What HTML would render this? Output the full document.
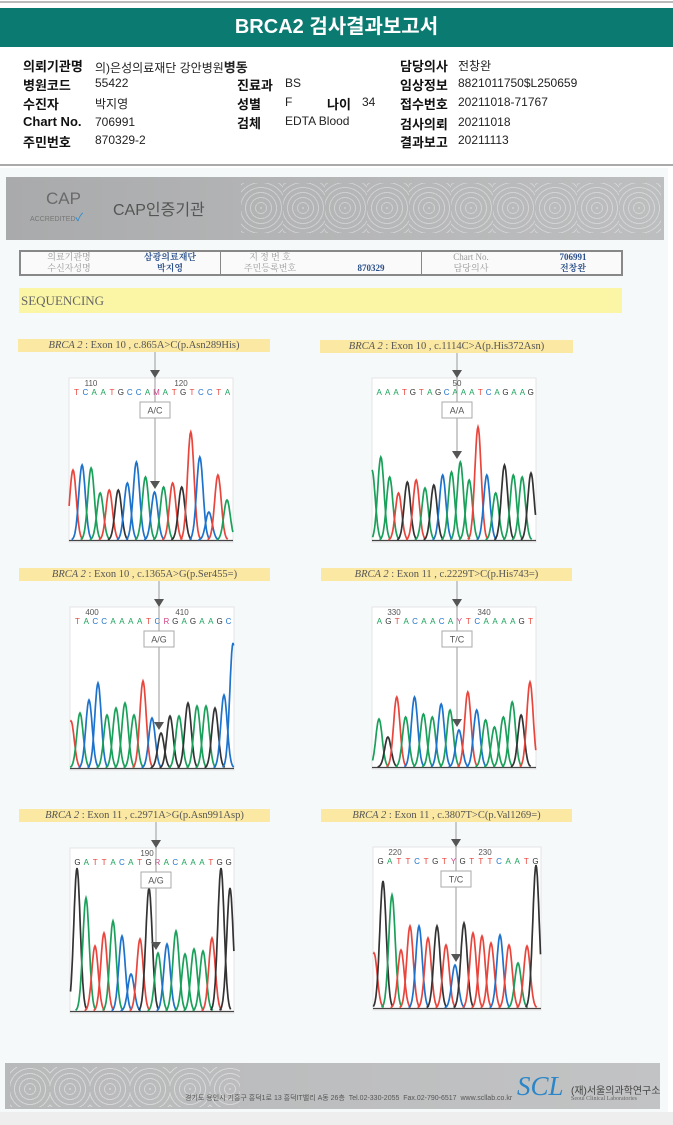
<!DOCTYPE html>
<html><head><meta charset="utf-8">
<style>
*{margin:0;padding:0;box-sizing:border-box}
body{width:673px;height:1125px;position:relative;background:#fff;font-family:"Liberation Sans","Noto Sans CJK KR",sans-serif;overflow:hidden}
.abs{position:absolute}
.lab{position:absolute;font-weight:bold;font-size:13px;color:#111}
.val{position:absolute;font-size:12px;color:#222}
.ybar{position:absolute;background:#fbe8a2;height:13px;font-family:"Liberation Serif","Noto Serif CJK SC",serif;font-size:10.5px;color:#555;text-align:center;line-height:13px;white-space:nowrap;overflow:hidden}
.tc{position:absolute;font-family:"Liberation Serif","Noto Serif CJK SC",serif;font-size:9px;line-height:11px;color:#999;transform:translateX(-50%);white-space:nowrap}
.tv{position:absolute;font-family:"Liberation Serif","Noto Serif CJK SC",serif;font-size:9px;line-height:11px;color:#2a4f8a;font-weight:bold;transform:translateX(-50%);white-space:nowrap}
</style></head><body>
<div class="abs" style="left:0;top:1px;width:673px;height:2px;background:#bbb"></div>
<div class="abs" style="left:0;top:8px;width:673px;height:39px;background:#0b7a70;color:#fff;font-weight:bold;font-size:20px;text-align:center;line-height:39px">BRCA2 검사결과보고서</div>

<div class="lab" style="left:23px;top:56px">의뢰기관명</div>
<div class="val" style="left:95px;top:57px">의)은성의료재단 강안병원<b style="font-size:13px">병동</b></div>
<div class="lab" style="left:400px;top:56px">담당의사</div>
<div class="val" style="left:458px;top:57px">전창완</div>

<div class="lab" style="left:23px;top:75px">병원코드</div>
<div class="val" style="left:95px;top:76px">55422</div>
<div class="lab" style="left:237px;top:75px">진료과</div>
<div class="val" style="left:285px;top:76px">BS</div>
<div class="lab" style="left:400px;top:75px">임상정보</div>
<div class="val" style="left:458px;top:76px">8821011750$L250659</div>

<div class="lab" style="left:23px;top:94px">수진자</div>
<div class="val" style="left:95px;top:95px">박지영</div>
<div class="lab" style="left:237px;top:94px">성별</div>
<div class="val" style="left:285px;top:95px">F</div>
<div class="lab" style="left:327px;top:94px">나이</div>
<div class="val" style="left:362px;top:95px">34</div>
<div class="lab" style="left:400px;top:94px">접수번호</div>
<div class="val" style="left:458px;top:95px">20211018-71767</div>

<div class="lab" style="left:23px;top:114px">Chart No.</div>
<div class="val" style="left:95px;top:115px">706991</div>
<div class="lab" style="left:237px;top:113px">검체</div>
<div class="val" style="left:285px;top:114px">EDTA Blood</div>
<div class="lab" style="left:400px;top:114px">검사의뢰</div>
<div class="val" style="left:458px;top:115px">20211018</div>

<div class="lab" style="left:23px;top:132px">주민번호</div>
<div class="val" style="left:95px;top:133px">870329-2</div>
<div class="lab" style="left:400px;top:132px">결과보고</div>
<div class="val" style="left:458px;top:133px">20211113</div>

<div class="abs" style="left:0;top:164px;width:673px;height:2px;background:#aaa"></div>
<div class="abs" style="left:0;top:168px;width:668px;height:945px;background:#f6f9fa"></div>
<div class="abs" style="left:0;top:1112px;width:673px;height:13px;background:#eeeeee"></div>

<div class="abs" style="left:6px;top:177px;width:658px;height:63px;background:linear-gradient(90deg,#a9aaab,#b3b4b5 40%,#bdbebf);overflow:hidden">
<div class="abs" style="left:235px;top:6px;width:420px;height:50px;background:repeating-radial-gradient(circle at 20px 25px,rgba(255,255,255,.35) 0 1px,transparent 1px 5px);background-size:42px 50px"></div>
<div class="abs" style="left:40px;top:12px;font-size:17px;color:#6a6a6a">CAP</div>
<div class="abs" style="left:24px;top:32px;font-size:7px;color:#777">ACCREDITED<span style="color:#2a8ad0;font-size:11px">✓</span></div>
<div class="abs" style="left:107px;top:19px;font-size:16px;color:#555">CAP인증기관</div>
</div>

<div class="abs" style="left:19px;top:250px;width:604px;height:26px;border:2px solid #888;background:#fafafa">
<div class="abs" style="left:199px;top:0;width:1px;height:22px;background:#888"></div>
<div class="abs" style="left:400px;top:0;width:1px;height:22px;background:#888"></div>
</div>
<div class="tc" style="left:69px;top:252px">의료기관명</div><div class="tv" style="left:170px;top:252px">삼광의료재단</div>
<div class="tc" style="left:270px;top:252px">지 정 번 호</div>
<div class="tc" style="left:471px;top:252px">Chart No.</div><div class="tv" style="left:573px;top:252px">706991</div>
<div class="tc" style="left:69px;top:263px">수신자성명</div><div class="tv" style="left:170px;top:263px">박지영</div>
<div class="tc" style="left:270px;top:263px">주민등록번호</div><div class="tv" style="left:371px;top:263px">870329</div>
<div class="tc" style="left:471px;top:263px">담당의사</div><div class="tv" style="left:573px;top:263px">전창완</div>

<div class="abs" style="left:19px;top:288px;width:603px;height:25px;background:#fbf6a6;font-family:'Liberation Serif',serif;font-size:13px;color:#666;line-height:25px;padding-left:2px">SEQUENCING</div>

<div class="abs" style="left:5px;top:1063px;width:655px;height:46px;background:linear-gradient(90deg,#b8b9ba,#c2c3c4);overflow:hidden">
<div class="abs" style="left:5px;top:4px;width:230px;height:40px;background:repeating-radial-gradient(circle at 20px 22px,rgba(255,255,255,.4) 0 1px,transparent 1px 5px);background-size:40px 40px"></div>
<div class="abs" style="left:180px;top:30px;font-size:7px;color:#555;white-space:nowrap">경기도 용인시 기흥구 흥덕1로 13 흥덕IT밸리 A동 26층 &nbsp;Tel.02-330-2055 &nbsp;Fax.02-790-6517 &nbsp;www.scllab.co.kr</div>
<div class="abs" style="left:512px;top:8px;font-family:'Liberation Serif',serif;font-style:italic;font-size:27px;color:#2a86c8">SCL</div>
<div class="abs" style="left:566px;top:19px;font-size:10px;color:#444;white-space:nowrap">(재)서울의과학연구소</div>
<div class="abs" style="left:566px;top:33px;font-size:6px;color:#666;font-family:'Liberation Serif',serif;white-space:nowrap">Seoul Clinical Laboratories</div>
</div>

<svg id="chrom" class="abs" style="left:0;top:0" width="673" height="1125"></svg>

<script>
// Panel data
const panelLabels = ["c.865A>C(p.Asn289His)","c.1114C>A(p.His372Asn)","c.1365A>G(p.Ser455=)","c.2229T>C(p.His743=)","c.2971A>G(p.Asn991Asp)","c.3807T>C(p.Val1269=)"];
const panelExons = ["Exon 10","Exon 10","Exon 10","Exon 11","Exon 11","Exon 11"];
const genotypes = ["A/C","A/A","A/G","T/C","A/G","T/C"];
const sequences = ["TCAATGCCAMATGTCCTA","AAATGTAGCAAATCAGAAG","TACCAAAATCRGAGAAGC","AGTACAACAYTCAAAAGT","GATTACATGRACAAATGG","GATTCTGTYGTTTCAATG"];
const positionLabels = [["110","120"],["50"],["400","410"],["330","340"],["190"],["220","230"]];
const peakColors = [
 "RBGGRKBBGBGRKRBBRG",
 "GGGRKRGKBGGGRBGKGGK",
 "RGBBGGGGRBKKGKGGKBB",
 "GKRGBGGBGBRBGGGGKR",
 "KGRRGBBRKGBGGGGRKK",
 "RKGRRBRKRBKRRRBRGRK"];
const peakHeights = [
 [70,75,72,47,50,50,57,78,63,48,53,57,53,108,83,28,65,40],
 [70,83,63,47,58,60,52,55,65,68,78,60,113,65,47,75,65,63,67],
 [47,55,68,85,53,60,65,53,87,50,35,52,52,65,62,62,60,73,125],
 [48,30,70,50,70,53,50,63,57,37,75,57,47,40,50,65,52,85],
 [143,113,65,78,90,75,37,72,123,58,67,80,57,62,60,73,143,123],
 [55,127,113,58,82,82,70,82,63,43,85,75,72,65,73,63,45,62,143]];

// Layout (not data)
const boxes=[[69,233,378,542,73,227,155,339,18,270],[372,536,378,542,372,531,457,340,320,573],
 [70,234,607,770,71,233,159,568,19,270],[372,536,607,769,379,530,457,568,321,572],
 [70,234,848,1013,77,230,156,809,19,270],[373,541,847,1010,374,536,456,809,321,572]];
const colMap={R:"#e8453c",G:"#1aa05a",B:"#1d72cc",K:"#333"};
const baseCol={A:"#1aa05a",C:"#1d72cc",G:"#333",T:"#e8453c"};
const svg=document.getElementById('chrom');
const NS="http://www.w3.org/2000/svg";
function mk(t,a){const e=document.createElementNS(NS,t);for(const k in a)e.setAttribute(k,a[k]);svg.appendChild(e);return e;}

panelLabels.forEach((lab,i)=>{
 const [x0,x1,y0,y1,px0,px1,ax,ly,lx0,lx1]=boxes[i];
 const bar=document.createElement('div');
 bar.className='ybar';
 
 
 bar.style.left=lx0+'px';bar.style.top=ly+'px';bar.style.width=(lx1-lx0)+'px';
 bar.innerHTML='<i>BRCA 2</i> : '+panelExons[i]+' , '+lab.replace('>','&gt;');
 document.body.appendChild(bar);
 const r=mk('rect',{x:x0,y:y0,width:x1-x0,height:y1-y0,fill:'#fff',stroke:'#e4e4e4','stroke-width':1});
 
 
 const seq=sequences[i];
 const step=(x1-x0-4)/seq.length;
 for(let k=0;k<seq.length;k++){
  const ch=seq[k];
  const t=mk('text',{x:x0+3+step*(k+0.5),y:y0+17,'font-size':8,'text-anchor':'middle','font-family':'Liberation Sans, sans-serif',fill:baseCol[ch]||'#d0458a'});
  t.textContent=ch;
  
  
 }
 positionLabels[i].forEach((p,j)=>{
  const t=mk('text',{x:x0+22+j*90+(positionLabels[i].length===1?(i===1?63:55):0),y:y0+8,'font-size':8,'text-anchor':'middle','font-family':'Liberation Sans, sans-serif',fill:'#555'});
  t.textContent=p;
  
  
 });
 const hs=peakHeights[i],cs=peakColors[i],n=hs.length;
 const xs=k=>px0+(px1-px0)*k/(n-1);
 const sp=(px1-px0)/(n-1),sg=sp*0.36;
 const H=h=>y1-2-h;
 mk('line',{x1:x0,y1:y1-1.5,x2:x1,y2:y1-1.5,stroke:'#444','stroke-width':1.2});
 for(let k=0;k<n;k++){
  const cx=xs(k);let d='';
  for(let s=-3.2;s<=3.2;s+=0.2){const x=cx+s*sg;if(x<x0||x>x1)continue;const y=H(hs[k]*Math.exp(-s*s/2));d+=(d?'L':'M')+x.toFixed(1)+' '+y.toFixed(1);}
  const p=mk('path',{d:d,fill:'none',stroke:colMap[cs[k]]||'#333','stroke-width':1.7});
  
  
 }
 let best=0;for(let k=0;k<n;k++)if(Math.abs(xs(k)-ax)<Math.abs(xs(best)-ax))best=k;
 const ty=H(hs[best])-3;
 mk('line',{x1:ax,y1:ly+13,x2:ax,y2:ty-6,stroke:'#999','stroke-width':1});
 mk('path',{d:`M${ax-5} ${y0-8}L${ax+5} ${y0-8}L${ax} ${y0}Z`,fill:'#555'});
 mk('path',{d:`M${ax-5} ${ty-8}L${ax+5} ${ty-8}L${ax} ${ty}Z`,fill:'#555'});
 const gb=mk('rect',{x:ax-15,y:y0+24,width:30,height:16,fill:'#fff',stroke:'#aaa','stroke-width':1});
 
 
 const gt=mk('text',{x:ax,y:y0+35.5,'font-size':9,'text-anchor':'middle','font-family':'Liberation Sans, sans-serif',fill:'#555'});
 gt.textContent=genotypes[i];
 
 
});
</script>
</body></html>
